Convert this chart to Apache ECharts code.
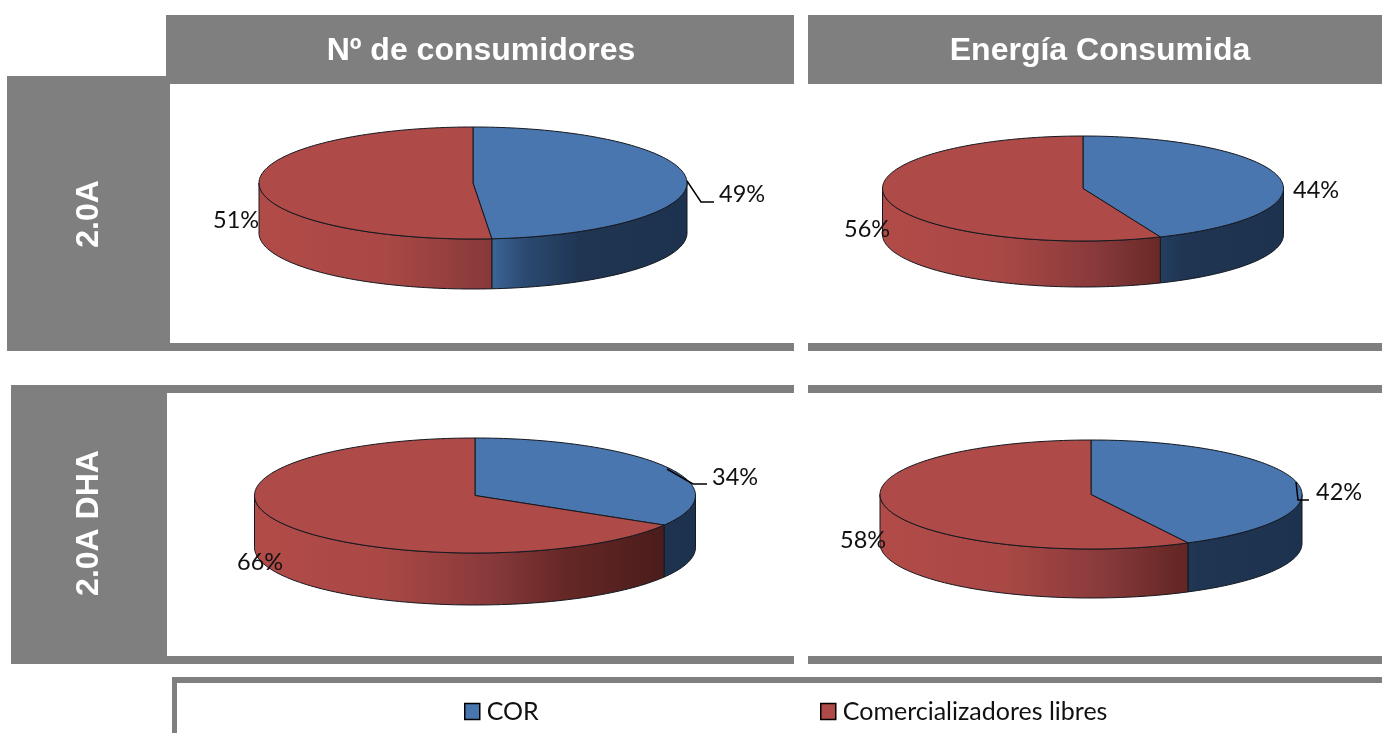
<!DOCTYPE html>
<html><head><meta charset="utf-8">
<script src="https://cdn.jsdelivr.net/npm/echarts@6/dist/echarts.min.js"></script>
<style>html,body{margin:0;padding:0;background:#fff}#c{width:1382px;height:733px}</style>
</head><body><div id="c"></div>
<script>
// ---- data ----
const seriesNames = ['COR', 'Comercializadores libres'];
const columnTitles = ['Nº de consumidores', 'Energía Consumida'];
const rowTitles = ['2.0A', '2.0A DHA'];
// order of panels: 2.0A/consumidores, 2.0A/energía, DHA/consumidores, DHA/energía
const corValues = [48.6, 43.7, 33.6, 42.4];
const libresValues = [51.4, 56.3, 66.4, 57.6];

// ---- layout ----
const pieCx = [473, 1083, 475, 1091];
const pieCy = [183, 188.5, 495.5, 494.5];
const pieRx = [214, 200.5, 220.5, 211];
const pieRy = [56, 52.5, 57.5, 54.5];
const pieDepth = [50, 46, 52, 49];
const corLabelXY = [[719, 194], [1293, 190], [712, 477], [1316, 492]];
const libresLabelXY = [[213, 220], [844, 229], [237, 562], [840, 540]];
const corLeaders = [
  [[687, 181], [701, 202], [714, 202]],
  null,
  [[667, 469], [693, 484], [707, 484]],
  [[1296, 482], [1298, 500], [1309, 500]]
];
const GREY = '#7f7f7f';
const panels = [
  [166, 15, 628, 69], [808, 15, 574, 69],
  [7, 76, 163, 275], [7, 343, 787, 8], [808, 343, 574, 8],
  [11, 385, 783, 8], [808, 385, 574, 8],
  [11, 385, 156, 279], [11, 656, 783, 8], [808, 656, 574, 8],
  [172, 677, 1210, 6], [172, 677, 5, 56]
];
const colourTop = ['#4a76af', '#ae4a47'];
const sideStops = [
  [[0, '#b04b48'], [0.5, '#4a78b0'], [0.54, '#3d6698'], [0.62, '#2b4a72'], [0.75, '#1f3552'], [1, '#1d324e']],
  [[0, '#b14b48'], [0.3, '#a94845'], [0.54, '#87393a'], [0.7, '#662826'], [0.93, '#4a1c1b'], [1, '#451a19']]
];

const rad = d => d * Math.PI / 180;
function pt(i, deg, dy) {
  return [pieCx[i] + pieRx[i] * Math.sin(rad(deg)), pieCy[i] - pieRy[i] * Math.cos(rad(deg)) + (dy || 0)];
}
function arc(i, a, b, dy) {
  const out = [], n = Math.max(2, Math.ceil(Math.abs(b - a) / 1.5));
  for (let k = 0; k <= n; k++) out.push(pt(i, a + (b - a) * k / n, dy));
  return out;
}
const stroke = {stroke: '#14181f', lineWidth: 1};

function makeRender(sIdx) {
  return function (params, api) {
    const i = api.value(0), v = api.value(1);
    const corDeg = corValues[i] * 3.6;
    const a0 = sIdx === 0 ? 0 : corDeg;
    const a1 = sIdx === 0 ? corDeg : corDeg + v * 3.6;
    const children = [];
    // visible front wall: angles between 90 and 270
    const fa = Math.max(a0, 90), fb = Math.min(a1, 270);
    if (fb > fa) {
      const pts = arc(i, fa, fb, 0).concat(arc(i, fb, fa, pieDepth[i]));
      children.push({
        type: 'polygon', shape: {points: pts},
        style: Object.assign({
          fill: {
            type: 'linear', global: true,
            x: pieCx[i] - pieRx[i], y: 0, x2: pieCx[i] + pieRx[i], y2: 0,
            colorStops: sideStops[sIdx].map(s => ({offset: s[0], color: s[1]}))
          }
        }, stroke)
      });
    }
    // top face
    const topPts = [[pieCx[i], pieCy[i]]].concat(arc(i, a0, a1, 0));
    children.push({
      type: 'polygon', shape: {points: topPts},
      style: Object.assign({fill: colourTop[sIdx]}, stroke)
    });
    // leader line
    const lead = sIdx === 0 ? corLeaders[i] : null;
    if (lead) children.push({
      type: 'polyline', shape: {points: lead},
      style: {fill: 'none', stroke: '#000', lineWidth: 1.5}
    });
    // value label
    const xy = (sIdx === 0 ? corLabelXY : libresLabelXY)[i];
    children.push({
      type: 'text', x: xy[0], y: xy[1],
      style: {
        text: Math.round(v) + '%', fill: '#111',
        font: '23.5px Lato', textAlign: 'left', textVerticalAlign: 'middle'
      }
    });
    return {type: 'group', children};
  };
}

const graphicEls = panels.map(p => ({
  type: 'rect', shape: {x: p[0], y: p[1], width: p[2], height: p[3]},
  style: {fill: GREY}, silent: true
}));
const headStyle = {fill: '#fff', font: 'bold 32px "Liberation Sans"', textAlign: 'center', textVerticalAlign: 'middle'};
graphicEls.push(
  {type: 'text', x: 481, y: 51, style: Object.assign({text: columnTitles[0]}, headStyle)},
  {type: 'text', x: 1100, y: 51, style: Object.assign({text: columnTitles[1]}, headStyle)},
  {type: 'text', x: 89, y: 214, rotation: Math.PI / 2, style: Object.assign({text: rowTitles[0]}, headStyle)},
  {type: 'text', x: 89, y: 523, rotation: Math.PI / 2, style: Object.assign({text: rowTitles[1]}, headStyle)}
);

const legendCommon = {
  top: 694, icon: 'rect', itemWidth: 15, itemHeight: 16, selectedMode: false,
  itemStyle: {borderColor: '#000', borderWidth: 1.5},
  textStyle: {fontFamily: 'Lato', fontSize: 25, color: '#111', padding: [0, 0, 0, 2]}
};

const chart = echarts.init(document.getElementById('c'), null, {renderer: 'canvas'});
chart.setOption({
  animation: false,
  backgroundColor: '#fff',
  graphic: {elements: graphicEls},
  legend: [
    Object.assign({left: 459, data: [seriesNames[0]]}, legendCommon),
    Object.assign({left: 815, data: [seriesNames[1]]}, legendCommon)
  ],
  series: [0, 1].map(s => ({
    type: 'custom', name: seriesNames[s], coordinateSystem: 'none',
    itemStyle: {color: colourTop[s]},
    renderItem: makeRender(s),
    data: (s === 0 ? corValues : libresValues).map((v, i) => [i, v])
  }))
});
</script></body></html>
